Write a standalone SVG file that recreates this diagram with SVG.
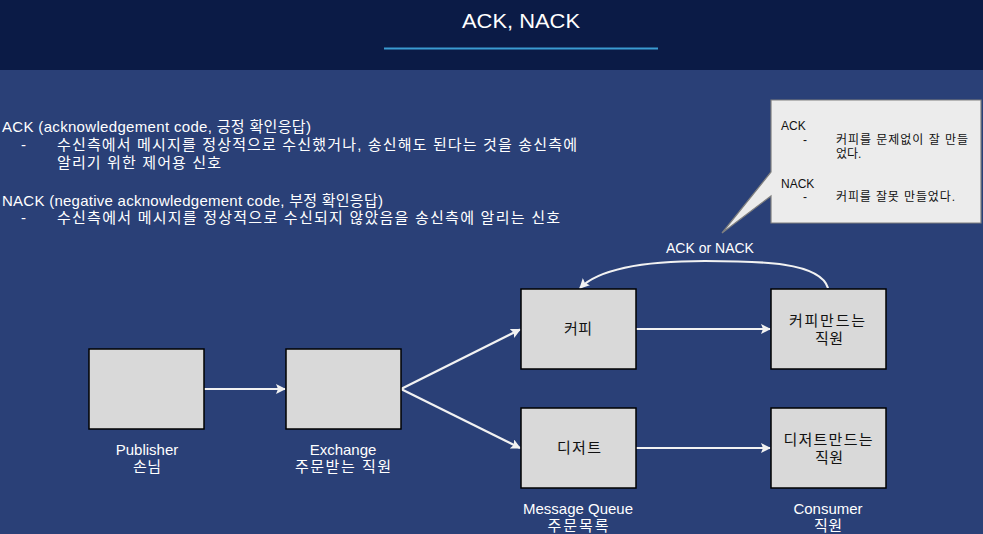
<svg xmlns="http://www.w3.org/2000/svg" width="983" height="534" viewBox="0 0 983 534">
<defs>
<marker id="ah" markerWidth="10" markerHeight="10" refX="9" refY="5" orient="auto" markerUnits="userSpaceOnUse">
<path d="M0,0 L10,5 L0,10 L2,5 Z" fill="#f2f2f2"/>
</marker>
<style>
text{font-family:"Liberation Sans","Noto Sans CJK KR",sans-serif}
.w{fill:#ffffff;font-size:15px}
.lbl{fill:#ffffff;font-size:15px;text-anchor:middle}
.box{fill:#d9d9d9;stroke:#000;stroke-width:1.5}
.nt{fill:#111;font-size:15px;text-anchor:middle}
.ct{fill:#111;font-size:12px}
.conn{stroke:#f2f2f2;stroke-width:2.2;fill:none}
</style>
</defs>
<rect x="0" y="0" width="983" height="534" fill="#2a4077"/>
<rect x="0" y="0" width="983" height="70" fill="#0b1b46"/>
<text x="521" y="28" font-size="21" fill="#fff" text-anchor="middle" textLength="118" lengthAdjust="spacingAndGlyphs">ACK, NACK</text>
<line x1="384" y1="48.5" x2="658" y2="48.5" stroke="#3b9bd1" stroke-width="2"/>

<g id="desc">
<text class="w" x="2" y="132" textLength="309" lengthAdjust="spacing">ACK (acknowledgement code, 긍정 확인응답)</text>
<text class="w" x="21" y="150">-</text>
<text class="w" x="57" y="150" textLength="520" lengthAdjust="spacing">수신측에서 메시지를 정상적으로 수신했거나, 송신해도 된다는 것을 송신측에</text>
<text class="w" x="57" y="168" textLength="164" lengthAdjust="spacing">알리기 위한 제어용 신호</text>
<text class="w" x="2" y="206" textLength="381" lengthAdjust="spacing">NACK (negative acknowledgement code, 부정 확인응답)</text>
<text class="w" x="21" y="223">-</text>
<text class="w" x="57" y="223" textLength="503" lengthAdjust="spacing">수신측에서 메시지를 정상적으로 수신되지 않았음을 송신측에 알리는 신호</text>
</g>

<g id="callout">
<path d="M771,100 H981 V223 H771 V196 L722,233 L771,172 Z" fill="#ececec" stroke="#7f7f7f" stroke-width="1.2"/>
<text class="ct" x="781" y="130">ACK</text>
<text class="ct" x="803" y="144">-</text>
<text class="ct" x="836" y="144" textLength="132" lengthAdjust="spacing">커피를 문제없이 잘 만들</text>
<text class="ct" x="836" y="158">었다.</text>
<text class="ct" x="781" y="188">NACK</text>
<text class="ct" x="803" y="201">-</text>
<text class="ct" x="836" y="201" textLength="119" lengthAdjust="spacing">커피를 잘못 만들었다.</text>
</g>

<g id="connectors">
<line class="conn" x1="204" y1="389" x2="285" y2="389" marker-end="url(#ah)"/>
<line class="conn" x1="401" y1="389" x2="520" y2="329.5" marker-end="url(#ah)"/>
<line class="conn" x1="401" y1="389" x2="520" y2="448" marker-end="url(#ah)"/>
<line class="conn" x1="636" y1="329" x2="770" y2="329" marker-end="url(#ah)"/>
<line class="conn" x1="636" y1="448" x2="770" y2="448" marker-end="url(#ah)"/>
<path class="conn" d="M828,288 C820,262 760,261 705,261 C650,261 600,268 580,288" marker-end="url(#ah)"/>
<text x="710" y="253" font-size="14" fill="#fff" text-anchor="middle">ACK or NACK</text>
</g>

<g id="publisher">
<rect class="box" x="89" y="349" width="115" height="80"/>
<text class="lbl" x="147" y="455">Publisher</text>
<text class="lbl" x="147" y="472" textLength="28" lengthAdjust="spacing">손님</text>
</g>
<g id="exchange">
<rect class="box" x="286" y="349" width="115" height="80"/>
<text class="lbl" x="343" y="455">Exchange</text>
<text class="lbl" x="343" y="472" textLength="96" lengthAdjust="spacing">주문받는 직원</text>
</g>
<g id="queue-coffee">
<rect class="box" x="521" y="289" width="115" height="80"/>
<text class="nt" x="578" y="334" textLength="28" lengthAdjust="spacing">커피</text>
</g>
<g id="queue-dessert">
<rect class="box" x="521" y="408" width="115" height="80"/>
<text class="nt" x="579" y="453" textLength="44" lengthAdjust="spacing">디저트</text>
<text class="lbl" x="578" y="514">Message Queue</text>
<text class="lbl" x="578" y="531" textLength="61" lengthAdjust="spacing">주문목록</text>
</g>
<g id="consumer-coffee">
<rect class="box" x="771" y="289" width="115" height="80"/>
<text class="nt" x="827" y="326" textLength="76" lengthAdjust="spacing">커피만드는</text>
<text class="nt" x="829" y="344" textLength="28" lengthAdjust="spacing">직원</text>
</g>
<g id="consumer-dessert">
<rect class="box" x="771" y="408" width="115" height="80"/>
<text class="nt" x="828" y="445" textLength="89" lengthAdjust="spacing">디저트만드는</text>
<text class="nt" x="829" y="463" textLength="28" lengthAdjust="spacing">직원</text>
<text class="lbl" x="828" y="514">Consumer</text>
<text class="lbl" x="828" y="531" textLength="28" lengthAdjust="spacing">직원</text>
</g>
</svg>
